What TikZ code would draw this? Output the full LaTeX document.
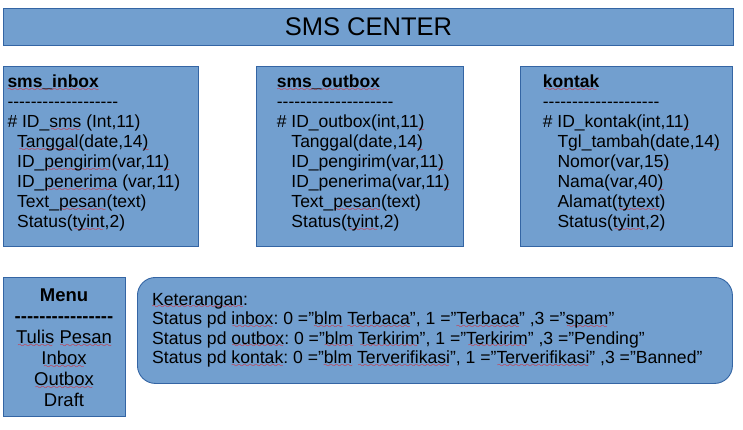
\documentclass[tikz,border=0pt]{standalone}
\usepackage{fontspec}
\setmainfont{Liberation Sans}
\frenchspacing
\definecolor{boxfill}{HTML}{729FCF}
\definecolor{boxline}{HTML}{3465A4}
\definecolor{spellred}{HTML}{FF0000}
% red wavy underline under a word
\font\wavefont=lasy8
\newsavebox\wordbox
\newcommand\sq[1]{\sbox\wordbox{#1}%
  \rlap{\lower3.8pt\hbox to\wd\wordbox{\color{spellred}\cleaders\hbox{\wavefont\char58}\hfil}}%
  \usebox\wordbox}
% a row of separate hyphens (kept apart so they do not join into dashes)
\newcommand\hyphenrow[1]{\foreach \k in {1,...,#1}{\hbox{-}}}
\begin{document}
\begin{tikzpicture}[x=1pt,y=-1pt,
  panel/.style={draw=boxline, fill=boxfill, line width=0.9pt, inner sep=0pt, anchor=north west},
  body/.style={anchor=north west, inner sep=0pt, align=left, font=\fontsize{17.5}{20}\selectfont},
]
\useasboundingbox (0,0) rectangle (743,429);

% header bar
\node[panel, minimum width=730pt, minimum height=37pt, font=\fontsize{25.5}{30}\selectfont] (title) at (3,8) {SMS CENTER};

% table panels
\node[panel, minimum width=195pt, minimum height=180pt] (inbox) at (3,66) {};
\node[panel, minimum width=207pt, minimum height=180pt] (outbox) at (256,66) {};
\node[panel, minimum width=212pt, minimum height=180pt] (kontak) at (520,66) {};

% menu and notes panels
\node[panel, minimum width=122pt, minimum height=139pt] (menu) at (3,277) {};
\node[panel, rounded corners=18pt, minimum width=595pt, minimum height=106pt] (notes) at (137,277) {};

% table fields
\node[body] (inboxtext) at (7.3,73) {%
\textbf{\sq{sms\_inbox}}\strut\\
\hyphenrow{19}\\
\# ID\_\sq{sms} (Int,11)\\
\hspace*{9.7pt}\sq{Tanggal}(date,14\sq{)}\\
\hspace*{9.7pt}ID\_\sq{pengirim}(var,11\sq{)}\\
\hspace*{9.7pt}ID\_\sq{penerima} (var,11)\\
\hspace*{9.7pt}Text\_\sq{pesan}(text)\\
\hspace*{9.7pt}Status(\sq{tyint},2)};

\node[body] (outboxtext) at (276.7,73) {%
\textbf{\sq{sms\_outbox}}\strut\\
\hyphenrow{20}\\
\# ID\_outbox(int,11\sq{)}\\
\hphantom{\#\ }Tanggal(date,14\sq{)}\\
\hphantom{\#\ }ID\_pengirim(var,11\sq{)}\\
\hphantom{\#\ }ID\_penerima(var,11\sq{)}\\
\hphantom{\#\ }Text\_\sq{pesan}(text)\\
\hphantom{\#\ }Status(\sq{tyint},2)};

\node[body] (kontaktext) at (542.7,73) {%
\textbf{\sq{kontak}}\strut\\
\hyphenrow{20}\\
\# ID\_kontak(int,11\sq{)}\\
\hphantom{\#\ }Tgl\_tambah(date,14\sq{)}\\
\hphantom{\#\ }Nomor(var,15\sq{)}\\
\hphantom{\#\ }Nama(var,40\sq{)}\\
\hphantom{\#\ }Alamat(\sq{tytext})\\
\hphantom{\#\ }Status(\sq{tyint},2)};

% menu entries
\node[anchor=north, inner sep=0pt, align=center, font=\fontsize{18.5}{21}\selectfont] (menutext) at (64,286.3) {%
\textbf{Menu}\strut\\
\textbf{\hyphenrow{16}}\\
\sq{Tulis} \sq{Pesan}\\
\sq{Inbox}\\
\sq{Outbox}\\
Draft};

% status notes
\node[anchor=north west, inner sep=0pt, align=left, font=\fontsize{17.6}{19.5}\selectfont] (notestext) at (152,291.2) {%
\sq{Keterangan}:\strut\\
Status pd \sq{inbox}: 0 ="\sq{blm} \sq{Terbaca}", 1 ="\sq{Terbaca}" ,3 ="\sq{spam}"\\
Status pd \sq{outbox}: 0 ="\sq{blm} \sq{Terkirim}", 1 ="\sq{Terkirim}" ,3 ="Pending"\\
Status pd \sq{kontak}: 0 ="\sq{blm} \sq{Terverifikasi}", 1 ="\sq{Terverifikasi}" ,3 ="Banned"};
\end{tikzpicture}
\end{document}
